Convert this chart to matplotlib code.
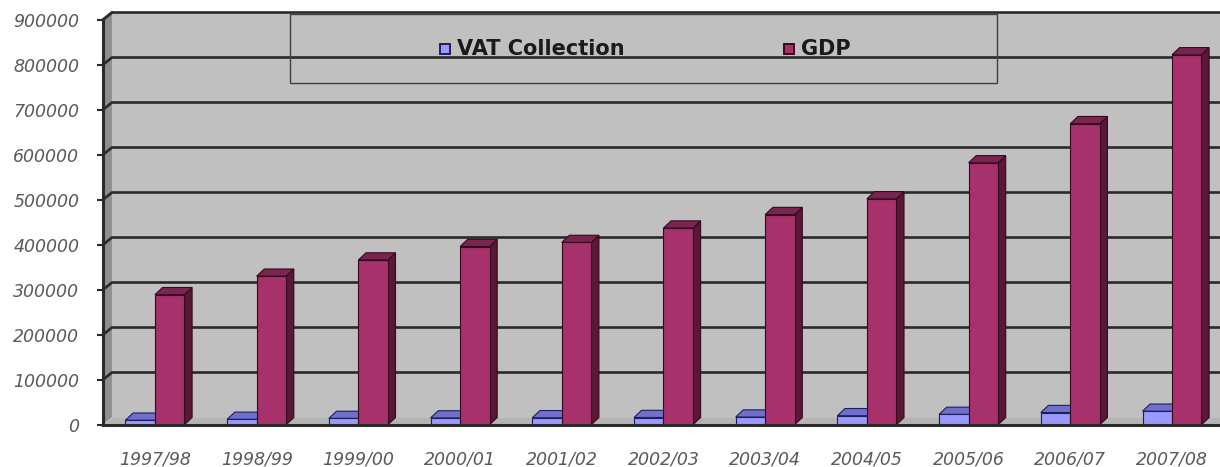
import numpy as np
import matplotlib.pyplot as plt
from matplotlib.patches import Polygon, Rectangle

# data (values in Rs million)
years = ['1997/98', '1998/99', '1999/00', '2000/01', '2001/02', '2002/03',
         '2003/04', '2004/05', '2005/06', '2006/07', '2007/08']
vat = [10000, 12000, 14000, 15000, 15500, 16000, 17000, 20000, 23000, 27000, 30000]
gdp = [289000, 330000, 366000, 396000, 405000, 437000, 467000, 502000, 582000, 669000, 822000]
series_names = ['VAT Collection', 'GDP']
yticks = np.arange(0, 900001, 100000)

# colours: front, top, side, edge
vat_col = ('#9999FF', '#7070CC', '#4C4C99', '#1E1E5A')
gdp_col = ('#A6316B', '#7A2450', '#5A1838', '#36081E')

fig = plt.figure(figsize=(12.2, 4.67), dpi=100)
ax = fig.add_axes([103 / 1220, 40 / 467, 1117 / 1220, 414.5 / 467])
ax.set_facecolor('white')

x0, x1 = -0.511, 10.472
ymax = 900000
dy = 16000     # depth offset (value units)
dxw = 0.088    # wall depth
dxb = 0.075    # bar depth
bw = 0.29
ax.set_xlim(x0, x1)
ax.set_ylim(-21100, ymax)

# walls and floor
ax.add_patch(Rectangle((x0 + dxw, 0), x1 - x0, ymax, facecolor='#C0C0C0', edgecolor='none', zorder=0))
ax.add_patch(Polygon([(x0, -dy), (x0 + dxw, 0), (x0 + dxw, ymax), (x0, ymax - dy)],
                     closed=True, facecolor='#8E8E8E', edgecolor='none', zorder=0.5, clip_on=False))
ax.add_patch(Polygon([(x0, -dy), (x1 + 1, -dy), (x1 + 1, 0), (x0 + dxw, 0)],
                     closed=True, facecolor='#B4B4B4', edgecolor='none', zorder=0.5))
ax.plot([x0, x1], [-dy, -dy], color='#2A2A2A', lw=2.2, zorder=6, clip_on=False)
ax.plot([x0, x0], [-dy, ymax - dy], color='#2A2A2A', lw=2.2, zorder=6, clip_on=False)
ax.plot([x0, x0 + dxw], [ymax - dy, ymax], color='#2A2A2A', lw=1.8, zorder=6, clip_on=False)

# gridlines on the back wall
for v in yticks[1:]:
    ax.plot([x0, x0 + dxw, x1], [v - dy, v, v], color='#2A2A2A', lw=1.9,
            zorder=1, clip_on=False, solid_joinstyle='miter')

# bars
xs = np.arange(len(years))


def draw_bars(lefts, values, cols):
    front, top, side, edge = cols
    ax.bar(lefts, values, width=bw, bottom=-dy, align='edge', color=front,
           edgecolor=edge, linewidth=0.8, zorder=3)
    for l, v in zip(lefts, values):
        r = l + bw
        ax.add_patch(Polygon([(r, -dy), (r + dxb, 0), (r + dxb, v), (r, v - dy)],
                             closed=True, facecolor=side, edgecolor=edge, lw=0.8, zorder=2))
        ax.add_patch(Polygon([(l, v - dy), (l + dxb, v), (r + dxb, v), (r, v - dy)],
                             closed=True, facecolor=top, edgecolor=edge, lw=0.8, zorder=2))


draw_bars(xs - bw, vat, vat_col)
draw_bars(xs, gdp, gdp_col)

# axes ticks
for s in ax.spines.values():
    s.set_visible(False)
ax.set_yticks(yticks - dy)
ax.set_yticklabels([str(v) for v in yticks])
ax.tick_params(axis='y', length=4, width=1.5, color='#2A2A2A', pad=13,
               labelsize=12.5, labelcolor='#5A5A5A')
ax.set_xticks(xs)
ax.set_xticklabels(years)
ax.tick_params(axis='x', length=0, pad=17, labelsize=12.5, labelcolor='#5A5A5A')
for lab in ax.get_xticklabels() + ax.get_yticklabels():
    lab.set_fontstyle('italic')

# legend box (no fill, gridline shows through)
fig.add_artist(Rectangle((290 / 1220, 1 - 83 / 467), 707 / 1220, 69 / 467,
                         transform=fig.transFigure, facecolor='none',
                         edgecolor='#404040', lw=1.0))
leg_x = [445, 789]
for name, cols, lx in zip(series_names, [vat_col, gdp_col], leg_x):
    fig.add_artist(Rectangle(((lx - 5) / 1220, 1 - 54 / 467), 10 / 1220, 10 / 467,
                             transform=fig.transFigure, facecolor=cols[0],
                             edgecolor=cols[3], lw=1.4))
    fig.text((lx + 12) / 1220, 1 - 49 / 467, name, fontsize=15, fontweight='bold',
             family='DejaVu Sans', color='#1A1A1A', va='center', ha='left')

fig.savefig('out.png', dpi=100)
